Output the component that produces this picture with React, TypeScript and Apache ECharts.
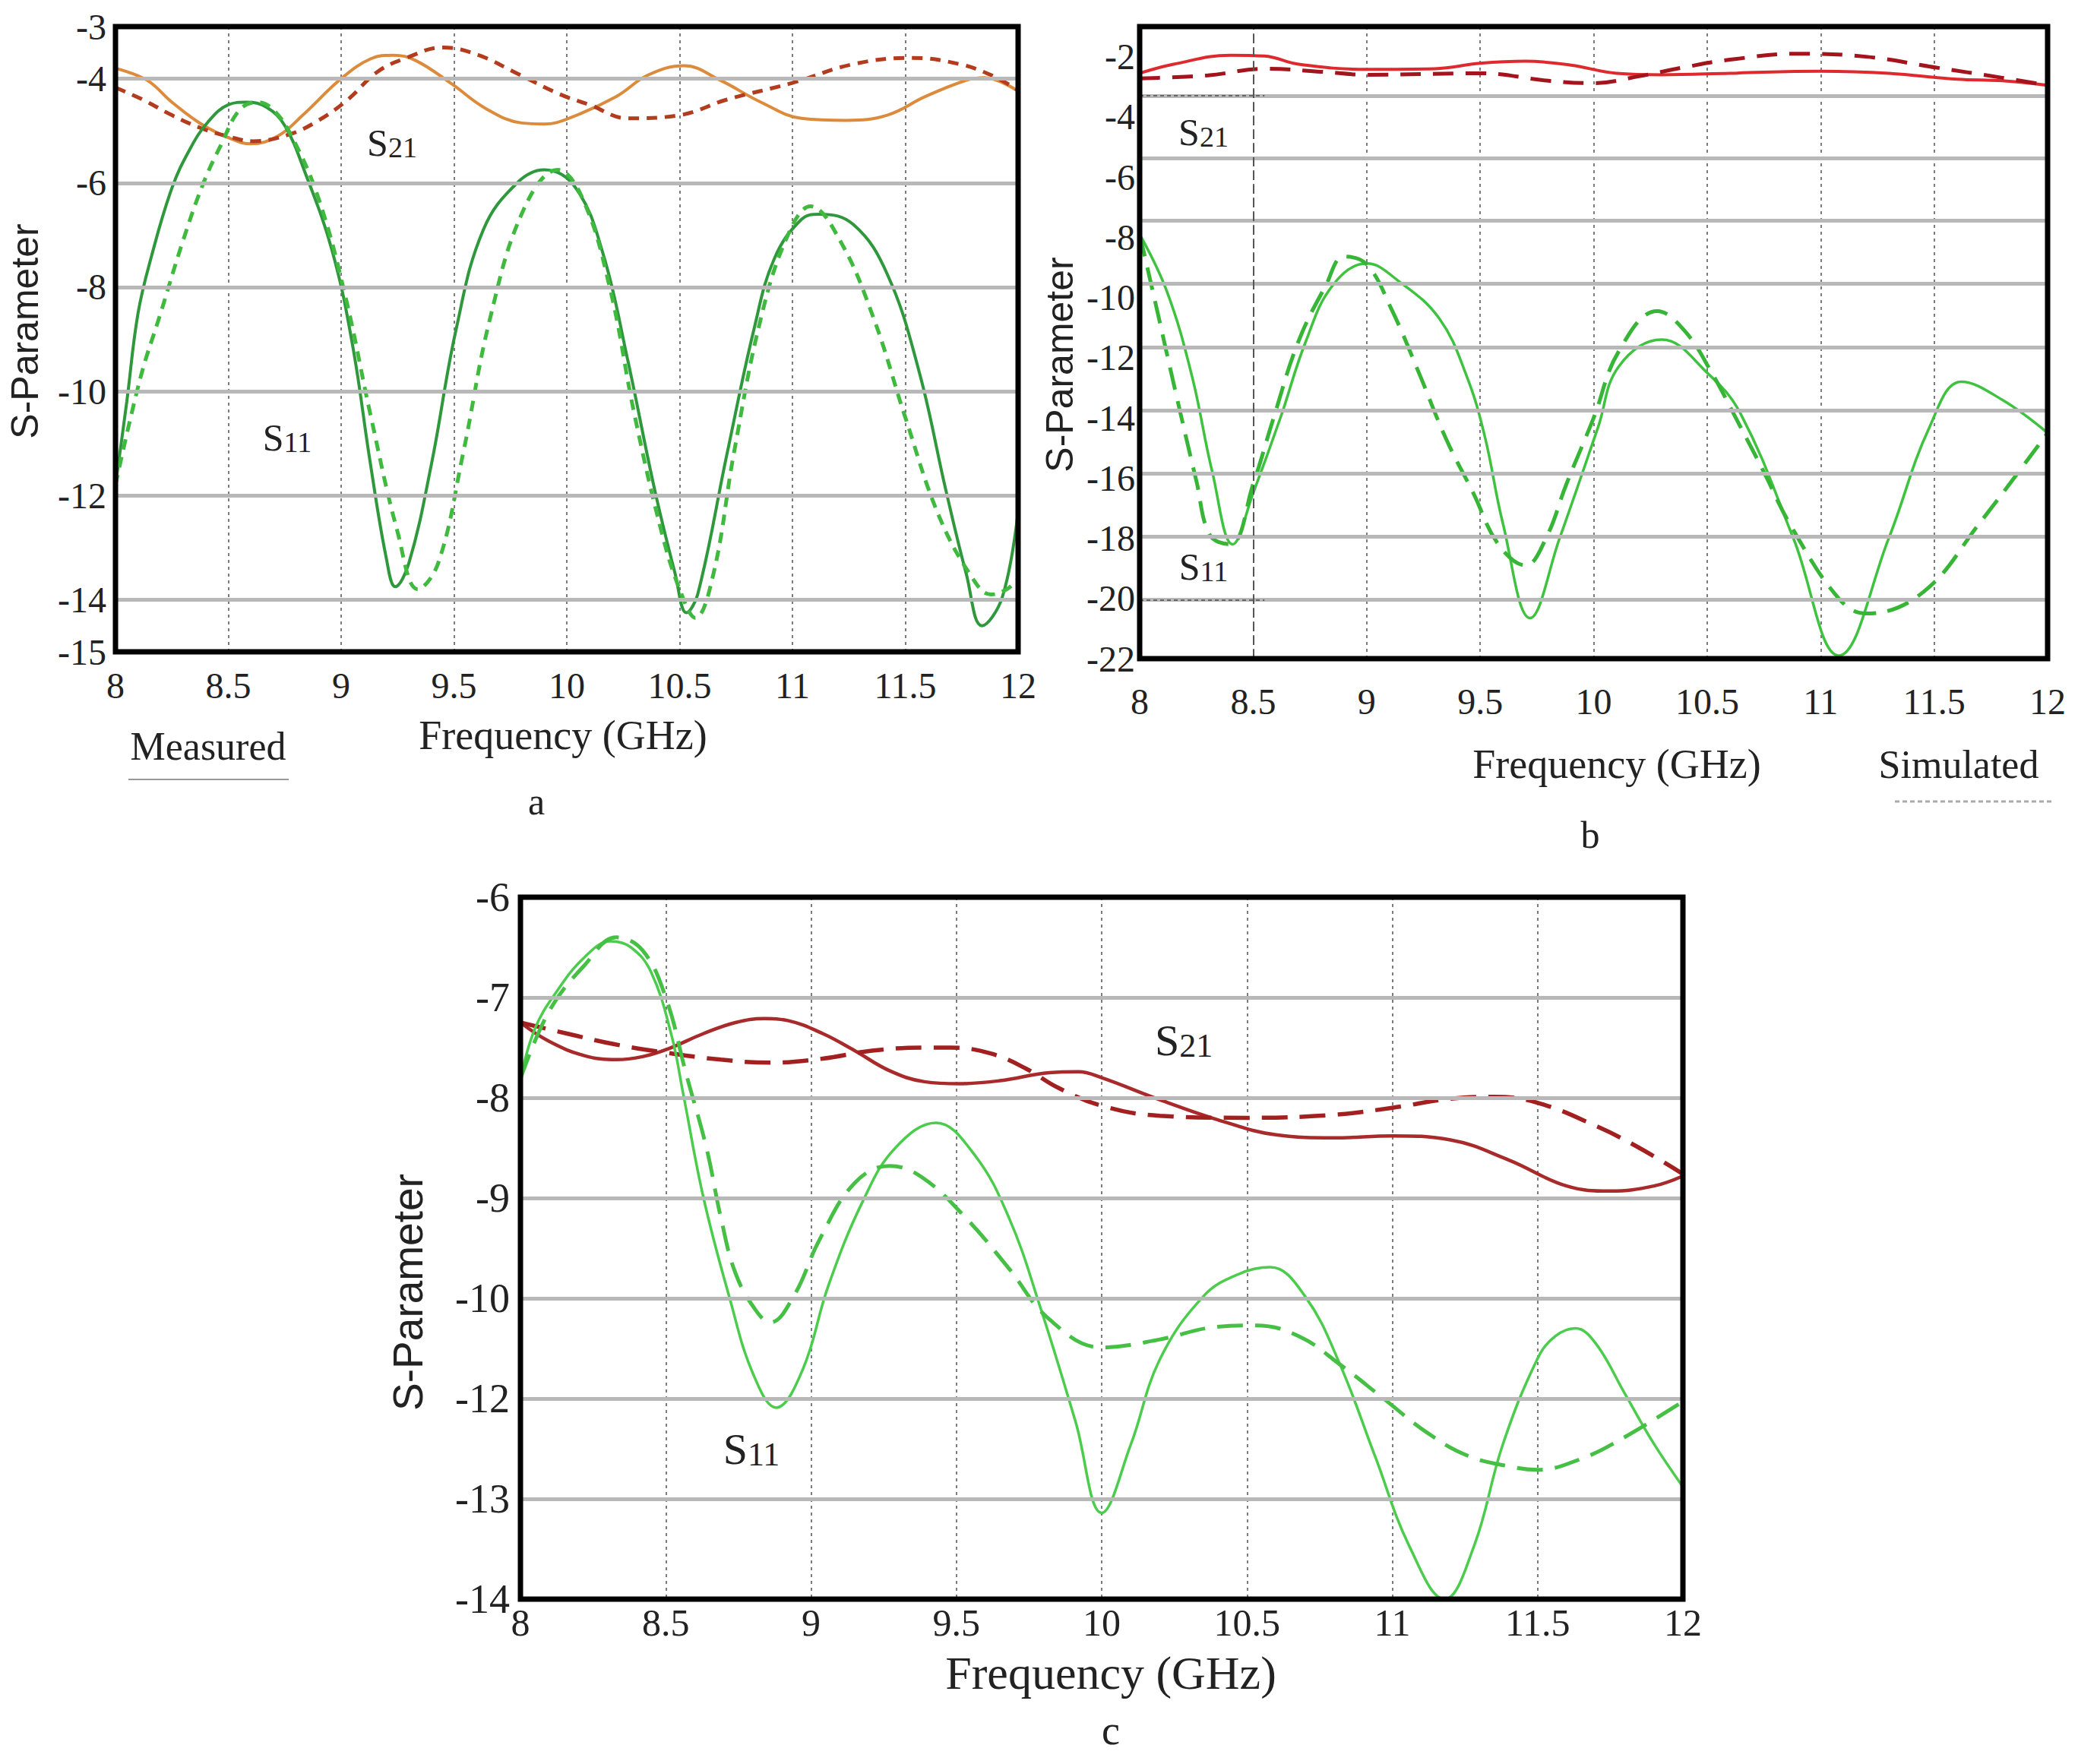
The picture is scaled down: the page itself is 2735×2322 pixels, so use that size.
import React, { useEffect, useRef } from 'react';
import * as echarts from 'echarts';

const W = 2735;
const H = 2322;
const SERIF = "'Liberation Serif', 'Times New Roman', serif";
const SANS = "'Liberation Sans', Arial, sans-serif";
const INK = '#222';

// ---------------- panel a (measured set) ----------------
const aS21MeasF = [8.0, 8.14, 8.25, 8.38, 8.51, 8.6, 8.72, 8.83, 9.0, 9.13, 9.23, 9.33, 9.49, 9.64, 9.8, 9.9, 10.01, 10.22, 10.36, 10.52, 10.68, 10.86, 11.04, 11.24, 11.42, 11.59, 11.77, 11.85, 12.0];
const aS21MeasV = [-3.8, -4.03, -4.45, -4.87, -5.15, -5.25, -5.1, -4.7, -4.0, -3.62, -3.55, -3.65, -4.1, -4.57, -4.85, -4.87, -4.76, -4.34, -3.93, -3.75, -4.03, -4.45, -4.76, -4.8, -4.7, -4.34, -4.03, -3.98, -4.24];
const aS21SimF = [8.0, 8.12, 8.25, 8.38, 8.51, 8.61, 8.77, 8.9, 9.03, 9.16, 9.29, 9.45, 9.61, 9.78, 9.97, 10.1, 10.27, 10.5, 10.71, 11.0, 11.27, 11.53, 11.74, 11.88, 12.0];
const aS21SimV = [-4.17, -4.4, -4.7, -4.95, -5.12, -5.2, -5.07, -4.8, -4.4, -3.87, -3.6, -3.4, -3.55, -3.9, -4.3, -4.5, -4.76, -4.7, -4.4, -4.08, -3.72, -3.6, -3.72, -3.93, -4.22];
const aS11MeasF = [8.0, 8.05, 8.1, 8.16, 8.25, 8.33, 8.41, 8.5, 8.58, 8.67, 8.75, 8.84, 8.96, 9.05, 9.13, 9.2, 9.24, 9.3, 9.4, 9.51, 9.63, 9.78, 9.9, 10.04, 10.16, 10.27, 10.39, 10.48, 10.53, 10.58, 10.71, 10.83, 10.92, 11.04, 11.12, 11.27, 11.42, 11.56, 11.68, 11.77, 11.84, 11.93, 12.0];
const aS11MeasV = [-11.8, -10.2, -8.5, -7.4, -6.1, -5.35, -4.83, -4.5, -4.45, -4.55, -4.9, -5.8, -7.3, -9.1, -11.4, -13.2, -13.75, -13.3, -11.4, -8.8, -6.9, -6.0, -5.75, -6.1, -7.35, -9.4, -11.9, -13.5, -14.25, -13.9, -11.2, -8.8, -7.45, -6.7, -6.6, -6.8, -7.75, -9.6, -11.9, -13.5, -14.5, -13.95, -12.3];
const aS11SimF = [8.0, 8.11, 8.2, 8.3, 8.39, 8.47, 8.55, 8.63, 8.7, 8.78, 8.9, 9.02, 9.13, 9.25, 9.34, 9.43, 9.54, 9.66, 9.81, 9.96, 10.07, 10.19, 10.3, 10.42, 10.5, 10.57, 10.65, 10.74, 10.86, 10.98, 11.08, 11.21, 11.36, 11.5, 11.65, 11.8, 11.88, 11.95, 12.0];
const aS11SimV = [-11.8, -9.75, -8.5, -7.1, -6.0, -5.25, -4.6, -4.45, -4.6, -5.1, -6.3, -8.2, -10.45, -12.7, -13.8, -13.3, -11.2, -8.6, -6.5, -5.75, -6.3, -8.0, -10.45, -12.7, -13.8, -14.35, -13.5, -11.2, -8.6, -7.0, -6.45, -7.1, -8.6, -10.5, -12.4, -13.6, -13.9, -13.8, -13.6];
const aYLabels = [-3, -4, -6, -8, -10, -12, -14, -15];
const aGridLines = [-4, -6, -8, -10, -12, -14];

// ---------------- panel b ----------------
const bS21MeasF = [8.0, 8.15, 8.4, 8.55, 8.7, 9.0, 9.3, 9.5, 9.7, 9.9, 10.1, 10.3, 10.6, 11.0, 11.3, 11.6, 11.8, 12.0];
const bS21MeasV = [-2.55, -2.25, -1.95, -1.98, -2.25, -2.42, -2.4, -2.22, -2.15, -2.28, -2.55, -2.6, -2.55, -2.48, -2.55, -2.75, -2.8, -2.95];
const bS21SimF = [8.0, 8.3, 8.55, 8.8, 9.0, 9.5, 9.8, 10.0, 10.2, 10.4, 10.6, 10.9, 11.2, 11.5, 11.8, 12.0];
const bS21SimV = [-2.72, -2.62, -2.4, -2.5, -2.6, -2.55, -2.8, -2.88, -2.65, -2.35, -2.1, -1.9, -2.0, -2.35, -2.7, -2.95];
const bS11MeasF = [8.0, 8.12, 8.23, 8.32, 8.41, 8.5, 8.62, 8.73, 8.85, 9.0, 9.14, 9.32, 9.44, 9.52, 9.6, 9.72, 9.85, 10.02, 10.11, 10.3, 10.5, 10.65, 10.88, 11.08, 11.3, 11.48, 11.62, 11.8, 12.0];
const bS11MeasV = [-7.9, -9.8, -12.6, -15.8, -18.2, -16.5, -14.0, -11.5, -9.6, -8.87, -9.45, -10.7, -12.6, -14.6, -17.5, -20.65, -18.0, -14.3, -12.3, -11.4, -12.5, -13.9, -18.0, -21.9, -18.0, -14.3, -12.8, -13.4, -14.5];
const bS11SimF = [8.0, 8.07, 8.16, 8.25, 8.31, 8.4, 8.5, 8.59, 8.7, 8.82, 8.9, 9.0, 9.11, 9.23, 9.35, 9.47, 9.58, 9.7, 9.79, 9.88, 10.0, 10.11, 10.28, 10.4, 10.52, 10.64, 10.75, 10.87, 11.08, 11.2, 11.45, 11.7, 12.0];
const bS11SimV = [-7.9, -10.2, -13.2, -16.1, -17.9, -18.2, -16.2, -14.0, -11.45, -9.6, -8.64, -8.9, -10.4, -12.5, -14.7, -16.5, -18.2, -18.9, -18.0, -16.2, -14.0, -11.8, -10.45, -11.1, -12.5, -14.2, -15.8, -17.6, -20.0, -20.5, -19.8, -17.5, -14.5];
const bYLabels = [-2, -4, -6, -8, -10, -12, -14, -16, -18, -20, -22];
const bGridLines = [-3.3, -5.38, -7.45, -9.55, -11.65, -13.75, -15.85, -17.95, -20.05];

// ---------------- panel c ----------------
const cS21MeasF = [8.0, 8.1, 8.22, 8.33, 8.42, 8.51, 8.63, 8.74, 8.84, 8.92, 9.04, 9.15, 9.27, 9.39, 9.51, 9.65, 9.82, 9.92, 10.0, 10.2, 10.4, 10.6, 10.8, 11.0, 11.2, 11.4, 11.6, 11.75, 11.9, 12.0];
const cS21MeasV = [-7.25, -7.44, -7.58, -7.62, -7.59, -7.51, -7.36, -7.25, -7.21, -7.23, -7.36, -7.53, -7.73, -7.84, -7.86, -7.83, -7.75, -7.74, -7.8, -8.02, -8.22, -8.37, -8.4, -8.38, -8.42, -8.62, -8.88, -8.93, -8.88, -8.78];
const cS21SimF = [8.0, 8.16, 8.33, 8.5, 8.69, 8.86, 9.04, 9.21, 9.39, 9.48, 9.62, 9.74, 9.85, 10.0, 10.2, 10.5, 10.8, 11.0, 11.2, 11.35, 11.5, 11.7, 11.85, 12.0];
const cS21SimV = [-7.25, -7.36, -7.47, -7.55, -7.62, -7.65, -7.61, -7.53, -7.5, -7.5, -7.56, -7.71, -7.9, -8.08, -8.18, -8.2, -8.17, -8.1, -8.01, -7.99, -8.05, -8.28, -8.5, -8.76];
const cS11MeasF = [8.0, 8.05, 8.12, 8.22, 8.31, 8.38, 8.45, 8.52, 8.56, 8.63, 8.72, 8.8, 8.88, 8.97, 9.06, 9.18, 9.29, 9.43, 9.56, 9.68, 9.79, 9.91, 10.0, 10.1, 10.2, 10.35, 10.47, 10.58, 10.7, 10.82, 10.94, 11.06, 11.18, 11.28, 11.38, 11.5, 11.56, 11.63, 11.7, 11.8, 11.9, 12.0];
const cS11MeasV = [-7.81, -7.31, -6.96, -6.6, -6.44, -6.5, -6.75, -7.38, -7.96, -9.0, -10.0, -10.75, -11.09, -10.72, -9.87, -9.02, -8.5, -8.25, -8.56, -9.19, -10.1, -11.23, -12.14, -11.46, -10.61, -9.98, -9.76, -9.69, -9.98, -10.66, -11.57, -12.48, -13.0, -12.48, -11.46, -10.6, -10.38, -10.3, -10.45, -10.95, -11.45, -11.88];
const cS11SimF = [8.0, 8.1, 8.22, 8.33, 8.42, 8.5, 8.57, 8.64, 8.69, 8.74, 8.81, 8.86, 8.94, 9.03, 9.15, 9.27, 9.38, 9.53, 9.68, 9.82, 10.0, 10.2, 10.38, 10.53, 10.68, 10.82, 10.97, 11.12, 11.26, 11.41, 11.5, 11.65, 11.79, 12.0];
const cS11SimV = [-7.81, -7.13, -6.68, -6.4, -6.53, -7.0, -7.76, -8.5, -9.2, -9.75, -10.12, -10.24, -9.98, -9.41, -8.85, -8.68, -8.79, -9.19, -9.7, -10.21, -10.49, -10.41, -10.29, -10.27, -10.38, -10.66, -11.0, -11.34, -11.57, -11.68, -11.71, -11.6, -11.4, -11.03];
// tick labels of panel c, top to bottom (the original axis skips -11)
const cTickLabels = ['-6', '-7', '-8', '-9', '-10', '-12', '-13', '-14'];
const cGridLines = [-7, -8, -9, -10, -11, -12];

const zip = (f: number[], v: number[]) => f.map((x, i) => [x, v[i]]);
const near = (list: number[], v: number) => list.some((x) => Math.abs(x - v) < 1e-6);

const GRIDS = [
  { left: 152, top: 35, width: 1188, height: 823 },
  { left: 1500, top: 35, width: 1195, height: 832 },
  { left: 685, top: 1181, width: 1530, height: 924 },
];

function line(name: string, idx: number, f: number[], v: number[], color: string, width: number, dash?: number[]) {
  return {
    name,
    type: 'line',
    xAxisIndex: idx,
    yAxisIndex: idx,
    data: zip(f, v),
    smooth: 0.4,
    showSymbol: false,
    symbol: 'none',
    silent: true,
    z: 4,
    lineStyle: { color, width, type: dash ? dash : 'solid' },
  };
}

function gridSeries(idx: number, values: number[], extra: any[] = []) {
  return {
    type: 'line',
    xAxisIndex: idx,
    yAxisIndex: idx,
    data: [],
    silent: true,
    z: 2,
    markLine: {
      silent: true,
      symbol: ['none', 'none'],
      label: { show: false },
      lineStyle: { color: '#b8b8b8', width: 5, type: 'solid' },
      data: [...values.map((v) => ({ yAxis: v })), ...extra],
    },
  };
}

function xAx(i: number, fontSize: number, margin: number) {
  return {
    type: 'value',
    gridIndex: i,
    min: 8,
    max: 12,
    interval: 0.5,
    axisLine: { show: false },
    axisTick: { show: false },
    splitLine: { show: true, lineStyle: { color: '#7c7c7c', width: 2, type: [4, 5] } },
    axisLabel: {
      fontFamily: SERIF,
      fontSize,
      color: INK,
      margin,
      showMinLabel: true,
      showMaxLabel: true,
      formatter: (v: number) => String(v),
    },
  };
}

function yAx(i: number, min: number, max: number, interval: number, fontSize: number, margin: number, fmt: (v: number) => string) {
  return {
    type: 'value',
    gridIndex: i,
    min,
    max,
    interval,
    axisLine: { show: false },
    axisTick: { show: false },
    splitLine: { show: false },
    axisLabel: { fontFamily: SERIF, fontSize, color: INK, margin, showMinLabel: true, showMaxLabel: true, formatter: fmt },
  };
}

function txt(x: number, y: number, text: string, size: number, family = SERIF, rotation = 0) {
  return {
    type: 'text',
    x,
    y,
    rotation,
    z: 20,
    silent: true,
    style: {
      text,
      fontSize: size,
      fontFamily: family,
      fill: INK,
      align: 'center',
      verticalAlign: 'middle',
      textAlign: 'center',
      textVerticalAlign: 'middle',
    },
  };
}

function sLabel(x: number, y: number, digits: string, big: number, small: number) {
  return {
    type: 'text',
    x,
    y,
    z: 20,
    silent: true,
    style: {
      text: `{s|S}{n|${digits}}`,
      fill: INK,
      align: 'center',
      verticalAlign: 'middle',
      textAlign: 'center',
      textVerticalAlign: 'middle',
      rich: {
        s: { fontSize: big, fontFamily: SERIF, fill: INK, verticalAlign: 'bottom' },
        n: { fontSize: small, fontFamily: SERIF, fill: INK, verticalAlign: 'bottom' },
      },
    },
  };
}

function buildOption() {
  const grid = GRIDS.map((g) => ({
    ...g,
    show: true,
    borderColor: '#000',
    borderWidth: 7,
    backgroundColor: 'transparent',
    containLabel: false,
    outerBoundsMode: 'none',
    z: 10,
  }));

  const xAxis = [xAx(0, 48, 20), xAx(1, 48, 32), xAx(2, 50, 6)];
  const yAxis = [
    yAx(0, -15, -3, 1, 48, 12, (v) => (near(aYLabels, v) ? String(v) : '')),
    yAx(1, -22, -1, 2, 48, 6, (v) => (near(bYLabels, v) ? String(v) : '')),
    yAx(2, -13, -6, 1, 54, 14, (v) => cTickLabels[Math.round(-6 - v)] ?? ''),
  ];

  const bExtra = [
    { xAxis: 8.5, lineStyle: { color: '#555', width: 2, type: [12, 6] } },
    [
      { coord: [8, -3.3], lineStyle: { color: '#666', width: 2, type: [5, 4] } },
      { coord: [8.55, -3.3] },
    ],
    [
      { coord: [8, -20.05], lineStyle: { color: '#666', width: 2, type: [5, 4] } },
      { coord: [8.55, -20.05] },
    ],
  ];

  const series = [
    gridSeries(0, aGridLines),
    gridSeries(1, bGridLines, bExtra),
    gridSeries(2, cGridLines),
    // panel a
    line('a S21 measured', 0, aS21MeasF, aS21MeasV, '#dc8a3c', 4),
    line('a S21 simulated', 0, aS21SimF, aS21SimV, '#b33c1e', 5, [14, 10]),
    line('a S11 measured', 0, aS11MeasF, aS11MeasV, '#2f983d', 4),
    line('a S11 simulated', 0, aS11SimF, aS11SimV, '#3fba3f', 5, [14, 10]),
    // panel b
    line('b S21 measured', 1, bS21MeasF, bS21MeasV, '#de2a2e', 4),
    line('b S21 simulated', 1, bS21SimF, bS21SimV, '#a3141d', 5, [27, 16]),
    line('b S11 measured', 1, bS11MeasF, bS11MeasV, '#3fc23f', 3.5),
    line('b S11 simulated', 1, bS11SimF, bS11SimV, '#37b537', 5, [30, 15]),
    // panel c
    line('c S21 measured', 2, cS21MeasF, cS21MeasV, '#a82a2a', 4.5),
    line('c S21 simulated', 2, cS21SimF, cS21SimV, '#a32020', 5.5, [34, 16]),
    line('c S11 measured', 2, cS11MeasF, cS11MeasV, '#4ccc4c', 3.5),
    line('c S11 simulated', 2, cS11SimF, cS11SimV, '#45c045', 5, [34, 16]),
  ];

  const graphic = [
    // panel a
    txt(741, 968, 'Frequency (GHz)', 54),
    txt(33, 436, 'S-Parameter', 50, SANS, Math.PI / 2),
    sLabel(516, 188, '21', 50, 38),
    sLabel(378, 576, '11', 50, 38),
    txt(274, 982, 'Measured', 52),
    { type: 'line', z: 20, silent: true, shape: { x1: 169, y1: 1026, x2: 380, y2: 1026 }, style: { stroke: '#999', lineWidth: 2 } },
    txt(706, 1055, 'a', 50),
    // panel b
    txt(2128, 1006, 'Frequency (GHz)', 54),
    txt(1395, 480, 'S-Parameter', 50, SANS, Math.PI / 2),
    sLabel(1584, 174, '21', 50, 38),
    sLabel(1584, 746, '11', 50, 38),
    txt(2578, 1006, 'Simulated', 52),
    { type: 'line', z: 20, silent: true, shape: { x1: 2494, y1: 1055, x2: 2704, y2: 1055 }, style: { stroke: '#aaa', lineWidth: 3, lineDash: [6, 4] } },
    txt(2093, 1099, 'b', 50),
    // panel c
    txt(1462, 2202, 'Frequency (GHz)', 62),
    txt(537, 1701, 'S-Parameter', 55, SANS, Math.PI / 2),
    sLabel(1558, 1369, '21', 58, 44),
    sLabel(989, 1907, '11', 58, 44),
    txt(1462, 2278, 'c', 54),
  ];

  return {
    animation: false,
    backgroundColor: '#fff',
    textStyle: { fontFamily: SERIF },
    grid,
    xAxis,
    yAxis,
    series,
    graphic,
  };
}

export default function App() {
  const ref = useRef<HTMLDivElement>(null);
  useEffect(() => {
    if (!ref.current) return;
    const chart = echarts.init(ref.current, null, { renderer: 'svg' });
    chart.setOption(buildOption() as any);
    return () => chart.dispose();
  }, []);
  return (
    <div
      ref={ref}
      style={{ position: 'absolute', left: 0, top: 0, width: W, height: H, background: '#fff' }}
    />
  );
}
